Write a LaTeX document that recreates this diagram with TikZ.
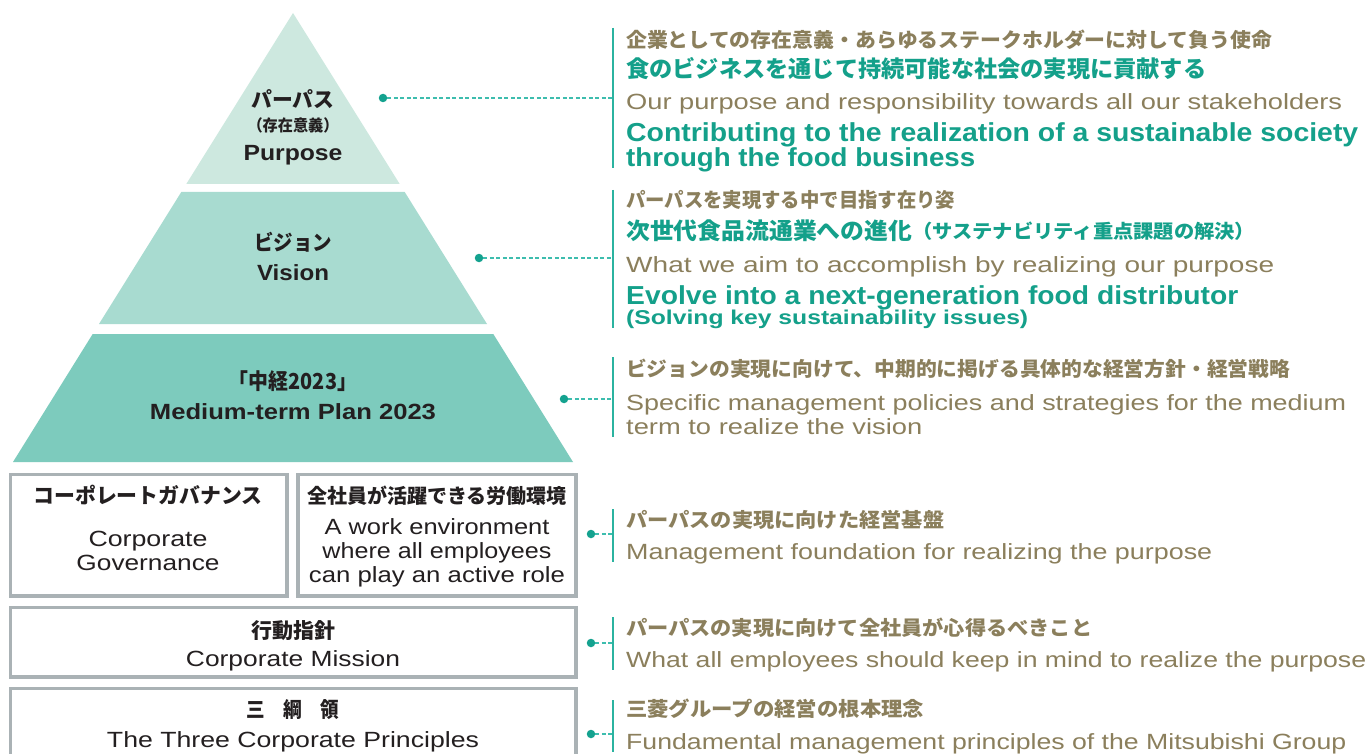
\documentclass[tikz,border=0pt]{standalone}
\usepackage{fontspec}
\usepackage{graphicx}
\setmainfont{Liberation Sans}
\newfontfamily\jp{Noto Sans CJK JP}
\newcommand{\sz}[1]{\fontsize{#1}{#1}\selectfont}
\newcommand{\fw}[2]{\resizebox{#1pt}{\height}{#2}}
\definecolor{tier1}{HTML}{CDE8DF}
\definecolor{tier2}{HTML}{A8DBD0}
\definecolor{tier3}{HTML}{7DCBBD}
\definecolor{txtdark}{HTML}{231F20}
\definecolor{txtgray}{HTML}{8B7F5C}
\definecolor{txtgreen}{HTML}{14A08A}
\definecolor{dotteal}{HTML}{14A28F}
\definecolor{dashteal}{HTML}{3DBDAE}
\definecolor{barteal}{HTML}{2BB3A0}
\definecolor{boxgray}{HTML}{AAB2B5}
\begin{document}
\begin{tikzpicture}[x=1pt,y=-1pt,
  lbl/.style={inner sep=0pt, anchor=base, text=txtdark},
  desc/.style={inner sep=0pt, anchor=base west, text=txtgray},
  head/.style={inner sep=0pt, anchor=base west, text=txtgreen},
  dotnode/.style={circle, fill=dotteal, inner sep=0pt, minimum size=8.5pt},
  conn/.style={draw=dashteal, line width=1.2pt, dash pattern=on 4pt off 2.5pt},
  bar/.style={draw=barteal, line width=1.4pt},
  boxstyle/.style={draw=boxgray, line width=3.5pt, fill=white}]
\useasboundingbox (0,0) rectangle (1370,754);
\clip (0,0) rectangle (1370,754);
\fill[white] (0,0) rectangle (1370,754);

% pyramid
\fill[tier1] (293,13) -- (399.7,184) -- (186.3,184) -- cycle;
\fill[tier2] (181.3,192) -- (404.7,192) -- (487,324) -- (99,324) -- cycle;
\fill[tier3] (92.7,334) -- (493.3,334) -- (573,462) -- (13,462) -- cycle;

% boxes
\draw[boxstyle] (10.5,474.5) rectangle (287,596);
\draw[boxstyle] (298,474.5) rectangle (576,596);
\draw[boxstyle] (10.5,607.5) rectangle (576,677);
\draw[boxstyle] (10.5,688.5) rectangle (576,770);

% left labels
\node[lbl] (purJ) at (293,108) {\fw{83}{\jp\bfseries\sz{21}パーパス}};
\node[lbl] (purJ2) at (293,132) {\fw{91}{\jp\bfseries\sz{16}（存在意義）}};
\node[lbl] (purE) at (293,161) {\fw{99}{\bfseries\sz{22}Purpose}};
\node[lbl] (visJ) at (293,250) {\fw{78}{\jp\bfseries\sz{21}ビジョン}};
\node[lbl] (visE) at (293,280) {\fw{72}{\bfseries\sz{22}Vision}};
\node[lbl] (midJ) at (293,389) {\fw{128}{\jp\bfseries\sz{22}「中経2023」}};
\node[lbl] (midE) at (293,419) {\fw{286}{\bfseries\sz{22}Medium-term Plan 2023}};
\node[lbl] (cgJ) at (148,503) {\fw{229}{\jp\bfseries\sz{21}コーポレートガバナンス}};
\node[lbl] (cgE1) at (148,546) {\fw{119}{\sz{22}Corporate}};
\node[lbl] (cgE2) at (148,570) {\fw{143}{\sz{22}Governance}};
\node[lbl] (weJ) at (437,503) {\fw{260}{\jp\bfseries\sz{20}全社員が活躍できる労働環境}};
\node[lbl] (weE1) at (437,534) {\fw{225}{\sz{22}A work environment}};
\node[lbl] (weE2) at (437,558) {\fw{229}{\sz{22}where all employees}};
\node[lbl] (weE3) at (437,582) {\fw{256}{\sz{22}can play an active role}};
\node[lbl] (cmJ) at (293,638) {\fw{84}{\jp\bfseries\sz{21}行動指針}};
\node[lbl] (cmE) at (293,666) {\fw{214}{\sz{22}Corporate Mission}};
\node[lbl] (tpJ) at (293,717) {\fw{93}{\jp\bfseries\sz{21}三　綱　領}};
\node[lbl] (tpE) at (293,747) {\fw{372}{\sz{22}The Three Corporate Principles}};

% vertical bars
\draw[bar] (613,28) -- (613,168);
\draw[bar] (613,190) -- (613,328);
\draw[bar] (613,357) -- (613,437);
\draw[bar] (613,509) -- (613,562);
\draw[bar] (613,617) -- (613,670);
\draw[bar] (613,700) -- (613,752);

% connectors
\node[dotnode] (d1) at (383,98) {};
\coordinate (b1) at (612.3,98);
\draw[conn] (d1) -- (b1);
\node[dotnode] (d2) at (479,258) {};
\coordinate (b2) at (612.3,258);
\draw[conn] (d2) -- (b2);
\node[dotnode] (d3) at (564,399) {};
\coordinate (b3) at (612.3,399);
\draw[conn] (d3) -- (b3);
\node[dotnode] (d4) at (591,534) {};
\coordinate (b4) at (612.3,534);
\draw[conn] (d4) -- (b4);
\node[dotnode] (d5) at (591,643) {};
\coordinate (b5) at (612.3,643);
\draw[conn] (d5) -- (b5);
\node[dotnode] (d6) at (591,734) {};
\coordinate (b6) at (612.3,734);
\draw[conn] (d6) -- (b6);

% right column
\node[desc] (r1a) at (626,48) {\fw{646}{\jp\bfseries\sz{20}企業としての存在意義・あらゆるステークホルダーに対して負う使命}};
\node[head] (r1b) at (626,78) {\fw{580}{\jp\bfseries\sz{23}食のビジネスを通じて持続可能な社会の実現に貢献する}};
\node[desc] (r1c) at (626,110) {\fw{716}{\sz{22}Our purpose and responsibility towards all our stakeholders}};
\node[head] (r1d) at (626,142) {\fw{732}{\bfseries\sz{26}Contributing to the realization of a sustainable society}};
\node[head] (r1e) at (626,167) {\fw{349}{\bfseries\sz{26}through the food business}};

\node[desc] (r2a) at (626,207) {\fw{329}{\jp\bfseries\sz{20}パーパスを実現する中で目指す在り姿}};
\node[head] (r2b) at (626,239) {\fw{286}{\jp\bfseries\sz{23}次世代食品流通業への進化}\fw{343}{\jp\bfseries\sz{19}（サステナビリティ重点課題の解決）}};
\node[desc] (r2c) at (626,272) {\fw{648}{\sz{22}What we aim to accomplish by realizing our purpose}};
\node[head] (r2d) at (626,304) {\fw{612}{\bfseries\sz{26}Evolve into a next-generation food distributor}};
\node[head] (r2e) at (626,324) {\fw{402}{\bfseries\sz{20}(Solving key sustainability issues)}};

\node[desc] (r3a) at (626,376) {\fw{664}{\jp\bfseries\sz{20}ビジョンの実現に向けて、中期的に掲げる具体的な経営方針・経営戦略}};
\node[desc] (r3b) at (626,410) {\fw{720}{\sz{22}Specific management policies and strategies for the medium}};
\node[desc] (r3c) at (626,434) {\fw{296}{\sz{22}term to realize the vision}};

\node[desc] (r4a) at (626,527) {\fw{318}{\jp\bfseries\sz{20}パーパスの実現に向けた経営基盤}};
\node[desc] (r4b) at (626,559) {\fw{586}{\sz{22}Management foundation for realizing the purpose}};

\node[desc] (r5a) at (626,635) {\fw{466}{\jp\bfseries\sz{20}パーパスの実現に向けて全社員が心得るべきこと}};
\node[desc] (r5b) at (626,667) {\fw{740}{\sz{22}What all employees should keep in mind to realize the purpose}};

\node[desc] (r6a) at (626,716) {\fw{298}{\jp\bfseries\sz{20}三菱グループの経営の根本理念}};
\node[desc] (r6b) at (626,749) {\fw{720}{\sz{22}Fundamental management principles of the Mitsubishi Group}};
\end{tikzpicture}
\end{document}
